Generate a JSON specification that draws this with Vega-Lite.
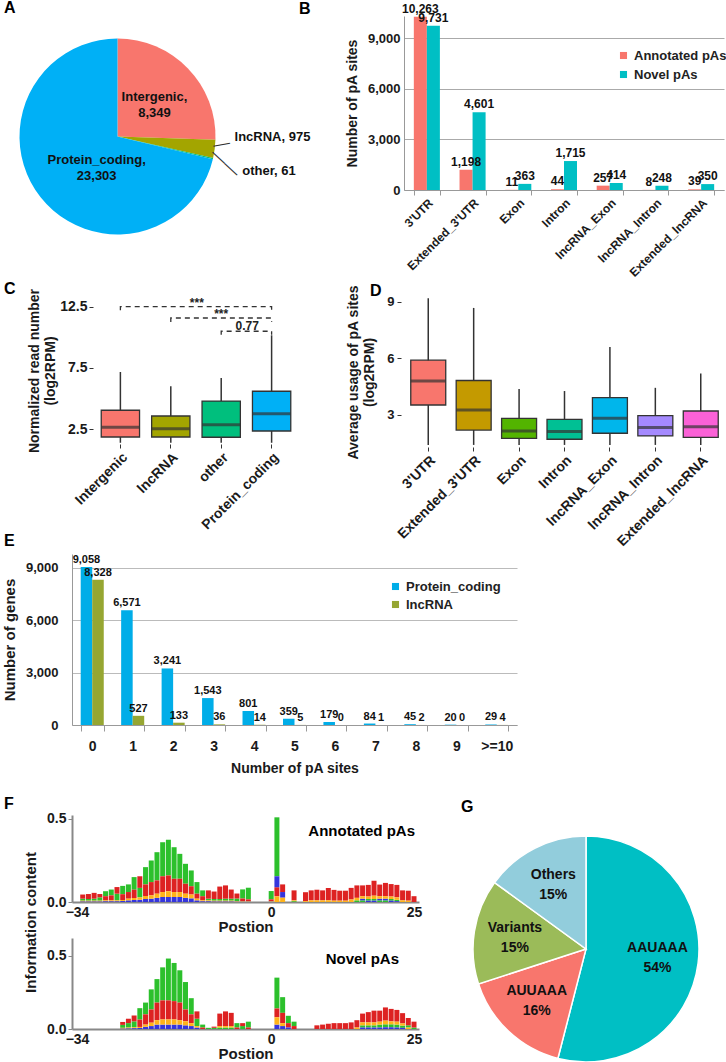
{
"$schema": "https://vega.github.io/schema/vega-lite/v6.json",
"background": "white",
"padding": {"left": 2, "top": 0, "right": 0, "bottom": 0},
"config": {
  "font": "Liberation Sans",
  "view": {"stroke": null},
  "axis": {"labelFont": "Liberation Sans", "titleFont": "Liberation Sans", "labelFontWeight": "bold", "titleFontWeight": "bold", "labelColor": "#1a1a1a", "titleColor": "#1a1a1a", "grid": false, "labelOverlap": false},
  "title": {"font": "Liberation Sans", "fontSize": 16, "fontWeight": "bold", "anchor": "start", "frame": "group", "baseline": "top", "color": "#000"},
  "legend": {"labelFont": "Liberation Sans"},
  "text": {"font": "Liberation Sans"}
},
"resolve": {"scale": {"color": "independent", "theta": "independent", "xOffset": "independent", "x": "independent", "y": "independent"}},
"columns": 1, "align": "none", "spacing": 20,
"concat": [
 {"columns": 1, "align": "none", "spacing": -17,
  "resolve": {"scale": {"color": "independent", "theta": "independent", "xOffset": "independent", "x": "independent", "y": "independent"}},
  "concat": [
   {"columns": 1, "align": "none", "spacing": 2,
    "resolve": {"scale": {"color": "independent", "theta": "independent", "xOffset": "independent", "x": "independent", "y": "independent"}},
    "concat": [
     {"columns": 2, "align": "none", "spacing": -12,
      "resolve": {"scale": {"color": "independent", "theta": "independent", "xOffset": "independent", "x": "independent", "y": "independent"}},
      "concat": [
       {"width": 91, "height": 241,
        "title": {"text": "A", "dx": -68, "offset": 0},
        "data": {"values": [
          {"t": "Intergenic", "n": 8349, "i": 1, "l": "Intergenic,\n8,349"},
          {"t": "lncRNA", "n": 975, "i": 2, "l": "lncRNA, 975"},
          {"t": "other", "n": 61, "i": 3, "l": "other, 61"},
          {"t": "Protein_coding", "n": 23303, "i": 4, "l": "Protein_coding,\n23,303"}
        ]},
        "encoding": {
          "theta": {"field": "n", "type": "quantitative", "stack": true},
          "order": {"field": "i", "type": "quantitative"},
          "detail": {"field": "t", "type": "nominal"}
        },
        "layer": [
          {"mark": {"type": "arc", "outerRadius": 98},
           "encoding": {"color": {"field": "t", "type": "nominal", "scale": {"domain": ["Intergenic", "lncRNA", "other", "Protein_coding"], "range": ["#F8766D", "#A3A500", "#00BF7D", "#00B0F6"]}, "legend": null}}},
          {"mark": {"type": "text", "radius": 50, "dx": 1, "dy": -5, "fontSize": 13, "fontWeight": "bold", "lineBreak": "\n", "lineHeight": 16, "color": "#111"},
           "encoding": {"text": {"condition": {"test": "datum.t === 'Intergenic'", "field": "l"}, "value": ""}}},
          {"mark": {"type": "text", "radius": 38, "dx": 9, "dy": 0, "fontSize": 13, "fontWeight": "bold", "lineBreak": "\n", "lineHeight": 16, "color": "#111"},
           "encoding": {"text": {"condition": {"test": "datum.t === 'Protein_coding'", "field": "l"}, "value": ""}}},
          {"mark": {"type": "text", "radius": 118, "dy": -15, "align": "left", "fontSize": 13, "fontWeight": "bold", "color": "#111"},
           "encoding": {"text": {"condition": {"test": "datum.t === 'lncRNA'", "field": "l"}, "value": ""}}},
          {"mark": {"type": "text", "radius": 128, "dy": 6, "align": "left", "fontSize": 13, "fontWeight": "bold", "color": "#111"},
           "encoding": {"text": {"condition": {"test": "datum.t === 'other'", "field": "l"}, "value": ""}}},
          {"mark": {"type": "text", "radius": 106, "dy": -6, "angle": 350, "fontSize": 17, "fontWeight": "normal", "color": "#333"},
           "encoding": {"text": {"condition": {"test": "datum.t === 'lncRNA'", "value": "\u2014"}, "value": ""}}},
          {"mark": {"type": "text", "radius": 112, "dy": 2, "angle": 43, "fontSize": 17, "fontWeight": "normal", "color": "#333"},
           "encoding": {"text": {"condition": {"test": "datum.t === 'other'", "value": "\u2014\u2014"}, "value": ""}}}
        ]
       },
       {"width": 320, "height": 174,
        "title": {"text": "B", "dx": -105, "offset": -14},
        "data": {"values": [
          {"c": "3'UTR", "s": "Annotated pAs", "n": 10263}, {"c": "3'UTR", "s": "Novel pAs", "n": 9731},
          {"c": "Extended_3'UTR", "s": "Annotated pAs", "n": 1198}, {"c": "Extended_3'UTR", "s": "Novel pAs", "n": 4601},
          {"c": "Exon", "s": "Annotated pAs", "n": 11}, {"c": "Exon", "s": "Novel pAs", "n": 363},
          {"c": "Intron", "s": "Annotated pAs", "n": 44}, {"c": "Intron", "s": "Novel pAs", "n": 1715},
          {"c": "lncRNA_Exon", "s": "Annotated pAs", "n": 257}, {"c": "lncRNA_Exon", "s": "Novel pAs", "n": 414},
          {"c": "lncRNA_Intron", "s": "Annotated pAs", "n": 8}, {"c": "lncRNA_Intron", "s": "Novel pAs", "n": 248},
          {"c": "Extended_lncRNA", "s": "Annotated pAs", "n": 39}, {"c": "Extended_lncRNA", "s": "Novel pAs", "n": 350}
        ]},
        "encoding": {
          "x": {"field": "c", "type": "nominal", "sort": ["3'UTR", "Extended_3'UTR", "Exon", "Intron", "lncRNA_Exon", "lncRNA_Intron", "Extended_lncRNA"],
                "scale": {"paddingInner": 0.43, "paddingOuter": 0.215},
                "axis": {"title": null, "labelAngle": -45, "labelFontSize": 12, "tickBand": "extent", "domainColor": "#999", "tickColor": "#999", "tickSize": 5, "labelPadding": 2}},
          "xOffset": {"field": "s", "type": "nominal", "sort": ["Annotated pAs", "Novel pAs"]},
          "y": {"field": "n", "type": "quantitative", "scale": {"domain": [0, 10303], "nice": false},
                "axis": {"values": [0, 3000, 6000, 9000], "format": ",d", "grid": true, "gridColor": "#aaa", "domainColor": "#999", "ticks": false, "labelFontSize": 13, "labelPadding": 4, "title": "Number of pA sites", "titleFontSize": 14, "titlePadding": 8}}
        },
        "layer": [
          {"mark": {"type": "bar"},
           "encoding": {"color": {"field": "s", "type": "nominal", "scale": {"domain": ["Annotated pAs", "Novel pAs"], "range": ["#F8766D", "#00BFC4"]},
             "legend": {"title": null, "orient": "none", "legendX": 213, "legendY": 33, "symbolType": "square", "symbolSize": 50, "symbolStrokeWidth": 0, "labelFontSize": 13, "labelFontWeight": "bold", "labelColor": "#222", "rowPadding": 5}}}},
          {"mark": {"type": "text", "baseline": "bottom", "dy": -1, "fontSize": 12, "fontWeight": "bold", "color": "#111"},
           "encoding": {"text": {"field": "n", "type": "quantitative", "format": ","}}}
        ]
       }
      ]
     },
     {"columns": 2, "align": "none", "spacing": 26,
      "resolve": {"scale": {"color": "independent", "theta": "independent", "xOffset": "independent", "x": "independent", "y": "independent"}},
      "concat": [
       {"width": 248, "height": 147,
        "title": {"text": "C", "dx": -68, "offset": -9},
        "data": {"values": [
          {"g": "Intergenic", "lo": 1.4, "q1": 1.87, "md": 2.66, "q3": 4.05, "hi": 7.17},
          {"g": "lncRNA", "lo": 1.4, "q1": 1.87, "md": 2.55, "q3": 3.58, "hi": 6.0},
          {"g": "other", "lo": 1.4, "q1": 1.85, "md": 2.87, "q3": 4.8, "hi": 6.68},
          {"g": "Protein_coding", "lo": 1.4, "q1": 2.36, "md": 3.77, "q3": 5.6, "hi": 10.16}
        ]},
        "encoding": {
          "x": {"field": "g", "type": "nominal", "sort": ["Intergenic", "lncRNA", "other", "Protein_coding"],
                "scale": {"paddingInner": 0, "paddingOuter": 0.46},
                "axis": {"title": null, "labelAngle": -45, "labelFontSize": 14, "domain": false, "tickSize": 4, "tickColor": "#333", "labelPadding": 2}}
        },
        "layer": [
          {"mark": {"type": "rule", "color": "#333", "strokeWidth": 1.5},
           "encoding": {
             "y": {"field": "lo", "type": "quantitative", "scale": {"domain": [1.3, 13.28], "nice": false, "zero": false},
                   "axis": {"values": [2.5, 5, 7.5, 10, 12.5], "format": ".1f", "offset": -21, "domain": false, "tickSize": 4, "tickColor": "#333", "labelFontSize": 14, "labelPadding": 2,
                            "title": ["Normalized read number", "(log2RPM)"], "titleFontSize": 14, "titleLineHeight": 16, "titlePadding": 2}},
             "y2": {"field": "hi"}}},
          {"mark": {"type": "bar", "width": {"band": 0.76}, "stroke": "#333", "strokeWidth": 1.3},
           "encoding": {
             "y": {"field": "q1", "type": "quantitative"}, "y2": {"field": "q3"},
             "color": {"field": "g", "type": "nominal", "scale": {"domain": ["Intergenic", "lncRNA", "other", "Protein_coding"], "range": ["#F8766D", "#A3A500", "#00BF7D", "#00B0F6"]}, "legend": null}}},
          {"mark": {"type": "tick", "thickness": 3, "size": 38, "color": "#333"},
           "encoding": {"y": {"field": "md", "type": "quantitative"}}},
          {"data": {"values": [
             {"b": 1, "o": 1, "g": "Intergenic", "y": 12.2}, {"b": 1, "o": 2, "g": "Intergenic", "y": 12.5}, {"b": 1, "o": 3, "g": "Protein_coding", "y": 12.5}, {"b": 1, "o": 4, "g": "Protein_coding", "y": 12.2},
             {"b": 2, "o": 1, "g": "lncRNA", "y": 11.25}, {"b": 2, "o": 2, "g": "lncRNA", "y": 11.57}, {"b": 2, "o": 3, "g": "Protein_coding", "y": 11.57}, {"b": 2, "o": 4, "g": "Protein_coding", "y": 11.25},
             {"b": 3, "o": 1, "g": "other", "y": 10.2}, {"b": 3, "o": 2, "g": "other", "y": 10.49}, {"b": 3, "o": 3, "g": "Protein_coding", "y": 10.49}, {"b": 3, "o": 4, "g": "Protein_coding", "y": 10.2}
           ]},
           "mark": {"type": "line", "strokeDash": [5, 4], "color": "#333", "strokeWidth": 1.3},
           "encoding": {"y": {"field": "y", "type": "quantitative"}, "detail": {"field": "b", "type": "nominal"}, "order": {"field": "o", "type": "quantitative"}}},
          {"data": {"values": [{"g": "lncRNA", "y": 12.78, "t": "***"}, {"g": "other", "y": 10.9, "t": "0.77"}]},
           "mark": {"type": "text", "dx": 26, "fontSize": 12, "fontWeight": "bold", "color": "#222"},
           "encoding": {"y": {"field": "y", "type": "quantitative"}, "text": {"field": "t"}}},
          {"data": {"values": [{"g": "other", "y": 11.92, "t": "***"}]},
           "mark": {"type": "text", "fontSize": 12, "fontWeight": "bold", "color": "#222"},
           "encoding": {"y": {"field": "y", "type": "quantitative"}, "text": {"field": "t"}}}
        ]
       },
       {"width": 327, "height": 150,
        "title": {"text": "D", "dx": -31, "offset": -14},
        "data": {"values": [
          {"g": "3'UTR", "lo": 1.41, "q1": 3.53, "md": 4.8, "q3": 5.91, "hi": 9.2},
          {"g": "Extended_3'UTR", "lo": 1.41, "q1": 2.2, "md": 3.26, "q3": 4.83, "hi": 8.68},
          {"g": "Exon", "lo": 1.41, "q1": 1.76, "md": 2.15, "q3": 2.82, "hi": 4.38},
          {"g": "Intron", "lo": 1.41, "q1": 1.71, "md": 2.12, "q3": 2.77, "hi": 4.27},
          {"g": "lncRNA_Exon", "lo": 1.41, "q1": 2.03, "md": 2.82, "q3": 3.92, "hi": 6.61},
          {"g": "lncRNA_Intron", "lo": 1.41, "q1": 1.89, "md": 2.33, "q3": 2.96, "hi": 4.44},
          {"g": "Extended_lncRNA", "lo": 1.41, "q1": 1.81, "md": 2.38, "q3": 3.21, "hi": 5.2}
        ]},
        "encoding": {
          "x": {"field": "g", "type": "nominal", "sort": ["3'UTR", "Extended_3'UTR", "Exon", "Intron", "lncRNA_Exon", "lncRNA_Intron", "Extended_lncRNA"],
                "scale": {"paddingInner": 0, "paddingOuter": 0.1},
                "axis": {"title": null, "labelAngle": -45, "labelFontSize": 14, "domain": false, "tickSize": 4, "tickColor": "#333", "labelPadding": 2}}
        },
        "layer": [
          {"mark": {"type": "rule", "color": "#333", "strokeWidth": 1.5},
           "encoding": {
             "y": {"field": "lo", "type": "quantitative", "scale": {"domain": [1.3, 9.26], "nice": false, "zero": false},
                   "axis": {"values": [3, 6, 9], "domain": false, "tickSize": 4, "tickColor": "#333", "labelFontSize": 13, "labelPadding": 3,
                            "title": ["Average usage of pA sites", "(log2RPM)"], "titleFontSize": 14, "titleLineHeight": 16, "titlePadding": 10}},
             "y2": {"field": "hi"}}},
          {"mark": {"type": "bar", "width": {"band": 0.77}, "stroke": "#333", "strokeWidth": 1.3},
           "encoding": {
             "y": {"field": "q1", "type": "quantitative"}, "y2": {"field": "q3"},
             "color": {"field": "g", "type": "nominal", "scale": {"domain": ["3'UTR", "Extended_3'UTR", "Exon", "Intron", "lncRNA_Exon", "lncRNA_Intron", "Extended_lncRNA"], "range": ["#F8766D", "#C49A00", "#53B400", "#00C094", "#00B6EB", "#A58AFF", "#FB61D7"]}, "legend": null}}},
          {"mark": {"type": "tick", "thickness": 3, "size": 35, "color": "#333"},
           "encoding": {"y": {"field": "md", "type": "quantitative"}}}
        ]
       }
      ]
     }
    ]
   },
   {"width": 445, "height": 171,
    "title": {"text": "E", "dx": -68, "offset": 5},
    "data": {"values": [
      {"k": "0", "s": "Protein_coding", "n": 9058}, {"k": "0", "s": "lncRNA", "n": 8328},
      {"k": "1", "s": "Protein_coding", "n": 6571}, {"k": "1", "s": "lncRNA", "n": 527},
      {"k": "2", "s": "Protein_coding", "n": 3241}, {"k": "2", "s": "lncRNA", "n": 133},
      {"k": "3", "s": "Protein_coding", "n": 1543}, {"k": "3", "s": "lncRNA", "n": 36},
      {"k": "4", "s": "Protein_coding", "n": 801}, {"k": "4", "s": "lncRNA", "n": 14},
      {"k": "5", "s": "Protein_coding", "n": 359}, {"k": "5", "s": "lncRNA", "n": 5},
      {"k": "6", "s": "Protein_coding", "n": 179}, {"k": "6", "s": "lncRNA", "n": 0},
      {"k": "7", "s": "Protein_coding", "n": 84}, {"k": "7", "s": "lncRNA", "n": 1},
      {"k": "8", "s": "Protein_coding", "n": 45}, {"k": "8", "s": "lncRNA", "n": 2},
      {"k": "9", "s": "Protein_coding", "n": 20}, {"k": "9", "s": "lncRNA", "n": 0},
      {"k": ">=10", "s": "Protein_coding", "n": 29}, {"k": ">=10", "s": "lncRNA", "n": 4}
    ]},
    "encoding": {
      "x": {"field": "k", "type": "nominal", "sort": ["0", "1", "2", "3", "4", "5", "6", "7", "8", "9", ">=10"],
            "scale": {"paddingInner": 0.43, "paddingOuter": 0.215},
            "axis": {"title": "Number of pA sites", "labelAngle": 0, "labelFontSize": 14, "titleFontSize": 14, "tickBand": "extent", "domainColor": "#999", "tickColor": "#999", "tickSize": 6, "labelPadding": 8, "titlePadding": 8}},
      "xOffset": {"field": "s", "type": "nominal", "sort": ["Protein_coding", "lncRNA"]},
      "y": {"field": "n", "type": "quantitative", "scale": {"domain": [0, 9800], "nice": false},
            "axis": {"values": [0, 3000, 6000, 9000], "format": ",d", "grid": true, "gridColor": "#bbb", "domainColor": "#999", "ticks": false, "labelFontSize": 13, "labelPadding": 14, "title": "Number of genes", "titleFontSize": 15, "titlePadding": 8}}
    },
    "layer": [
      {"mark": {"type": "bar"},
       "encoding": {"color": {"field": "s", "type": "nominal", "scale": {"domain": ["Protein_coding", "lncRNA"], "range": ["#00ADE8", "#96A632"]},
         "legend": {"title": null, "orient": "none", "legendX": 317, "legendY": 26, "symbolType": "square", "symbolSize": 50, "symbolStrokeWidth": 0, "labelFontSize": 13, "labelFontWeight": "bold", "labelColor": "#222", "rowPadding": 4}}}},
      {"mark": {"type": "text", "baseline": "bottom", "dy": -2, "fontSize": 11, "fontWeight": "bold", "color": "#111"},
       "encoding": {"text": {"field": "n", "type": "quantitative", "format": ","}}}
    ]
   }
  ]
 },
 {"columns": 2, "align": "none", "spacing": 39,
  "resolve": {"scale": {"color": "independent", "theta": "independent", "xOffset": "independent", "x": "independent", "y": "independent"}},
  "concat": [
   {"title": {"text": "F", "frame": "group", "dx": -68, "offset": 0},
    "bounds": "flush", "spacing": 36,
    "resolve": {"scale": {"x": "independent", "y": "independent"}},
    "vconcat": [
     {"width": 347, "height": 87,
      "title": {"text": "Annotated pAs", "anchor": "end", "dx": -4, "offset": -27, "fontSize": 15},
      "data": {"values": [
        {"p": -33, "A": 0.012, "T": 0.025, "C": 0.004, "G": 0.004},
        {"p": -32, "A": 0.01, "T": 0.03, "C": 0.004, "G": 0.004},
        {"p": -31, "A": 0.012, "T": 0.035, "C": 0.004, "G": 0.004},
        {"p": -30, "A": 0.02, "T": 0.02, "C": 0.004, "G": 0.004},
        {"p": -29, "A": 0.03, "T": 0.025, "C": 0.005, "G": 0.005},
        {"p": -28, "A": 0.035, "T": 0.03, "C": 0.005, "G": 0.005},
        {"p": -27, "A": 0.04, "T": 0.04, "C": 0.005, "G": 0.005},
        {"p": -26, "A": 0.05, "T": 0.035, "C": 0.006, "G": 0.006},
        {"p": -25, "A": 0.046, "T": 0.04, "C": 0.01, "G": 0.01},
        {"p": -24, "A": 0.076, "T": 0.05, "C": 0.012, "G": 0.012},
        {"p": -23, "A": 0.057, "T": 0.07, "C": 0.014, "G": 0.014},
        {"p": -22, "A": 0.104, "T": 0.07, "C": 0.018, "G": 0.018},
        {"p": -21, "A": 0.13, "T": 0.08, "C": 0.02, "G": 0.02},
        {"p": -20, "A": 0.17, "T": 0.08, "C": 0.025, "G": 0.025},
        {"p": -19, "A": 0.205, "T": 0.095, "C": 0.03, "G": 0.03},
        {"p": -18, "A": 0.215, "T": 0.095, "C": 0.03, "G": 0.035},
        {"p": -17, "A": 0.19, "T": 0.08, "C": 0.03, "G": 0.03},
        {"p": -16, "A": 0.15, "T": 0.08, "C": 0.03, "G": 0.03},
        {"p": -15, "A": 0.12, "T": 0.06, "C": 0.025, "G": 0.025},
        {"p": -14, "A": 0.095, "T": 0.05, "C": 0.022, "G": 0.023},
        {"p": -13, "A": 0.07, "T": 0.03, "C": 0.01, "G": 0.01},
        {"p": -12, "A": 0.035, "T": 0.025, "C": 0.005, "G": 0.005},
        {"p": -11, "A": 0.01, "T": 0.05, "C": 0.005, "G": 0.005},
        {"p": -10, "A": 0.01, "T": 0.045, "C": 0.004, "G": 0.004},
        {"p": -9, "A": 0.01, "T": 0.075, "C": 0.004, "G": 0.004},
        {"p": -8, "A": 0.012, "T": 0.08, "C": 0.004, "G": 0.004},
        {"p": -7, "A": 0.012, "T": 0.055, "C": 0.004, "G": 0.004},
        {"p": -6, "A": 0.015, "T": 0.03, "C": 0.003, "G": 0.003},
        {"p": -5, "A": 0.055, "T": 0.015, "C": 0.003, "G": 0.003},
        {"p": -4, "A": 0.07, "T": 0.01, "C": 0.003, "G": 0.003},
        {"p": 0, "A": 0.05, "T": 0.01, "C": 0.003, "G": 0.003},
        {"p": 1, "A": 0.355, "T": 0.055, "C": 0.066, "G": 0.034},
        {"p": 2, "T": 0.046, "C": 0.034, "G": 0.026},
        {"p": 4, "A": 0.005, "T": 0.06, "G": 0.005},
        {"p": 6, "T": 0.054, "G": 0.005},
        {"p": 7, "T": 0.06, "G": 0.01},
        {"p": 8, "T": 0.064, "G": 0.01},
        {"p": 9, "T": 0.06, "G": 0.01},
        {"p": 10, "T": 0.074, "G": 0.01},
        {"p": 11, "T": 0.065, "G": 0.008},
        {"p": 12, "T": 0.06, "G": 0.008},
        {"p": 13, "T": 0.06, "G": 0.008},
        {"p": 14, "T": 0.07, "G": 0.015},
        {"p": 15, "A": 0.01, "T": 0.075, "G": 0.015},
        {"p": 16, "A": 0.01, "T": 0.065, "C": 0.01, "G": 0.015},
        {"p": 17, "A": 0.01, "T": 0.07, "C": 0.008, "G": 0.015},
        {"p": 18, "A": 0.01, "T": 0.09, "C": 0.008, "G": 0.02},
        {"p": 19, "A": 0.01, "T": 0.07, "C": 0.01, "G": 0.015},
        {"p": 20, "A": 0.01, "T": 0.08, "C": 0.01, "G": 0.015},
        {"p": 21, "A": 0.01, "T": 0.075, "C": 0.008, "G": 0.015},
        {"p": 22, "A": 0.008, "T": 0.075, "C": 0.005, "G": 0.015},
        {"p": 23, "T": 0.06, "G": 0.01},
        {"p": 24, "T": 0.06, "G": 0.008},
        {"p": 25, "T": 0.035}
      ]},
      "transform": [{"fold": ["A", "T", "C", "G"], "as": ["nt", "h"]}, {"filter": "datum.h > 0"}],
      "mark": {"type": "bar", "width": 5},
      "encoding": {
        "x": {"field": "p", "type": "quantitative", "scale": {"domain": [-34, 25], "nice": false, "zero": false},
              "axis": {"values": [-34, 0, 25], "labelFlush": false, "title": "Postion", "labelFontSize": 14, "titleFontSize": 15, "domainColor": "#888", "domainWidth": 2, "ticks": false, "labelPadding": 3, "titlePadding": 0}},
        "y": {"field": "h", "type": "quantitative", "stack": "zero", "scale": {"domain": [0, 0.524], "nice": false},
              "axis": {"values": [0, 0.5], "format": ".1f", "labelFontSize": 14, "domainColor": "#888", "domainWidth": 2, "tickSize": 4, "tickColor": "#888",
                       "title": "Information content", "titleFontSize": 15, "titleX": -42, "titleY": 107, "titleAlign": "center", "titleBaseline": "middle"}},
        "color": {"field": "nt", "type": "nominal", "scale": {"domain": ["A", "T", "C", "G"], "range": ["#2CC02C", "#DD2222", "#3535DD", "#FFB31A"]}, "legend": null},
        "order": {"field": "h", "type": "quantitative", "sort": "ascending"}
      }
     },
     {"width": 347, "height": 91,
      "title": {"text": "Novel pAs", "anchor": "end", "dx": -20, "offset": -29, "fontSize": 15},
      "data": {"values": [
        {"p": -26, "A": 0.02, "T": 0.02, "C": 0.004, "G": 0.004},
        {"p": -25, "A": 0.03, "T": 0.03, "C": 0.005, "G": 0.005},
        {"p": -24, "A": 0.04, "T": 0.04, "C": 0.006, "G": 0.006},
        {"p": -23, "A": 0.078, "T": 0.05, "C": 0.007, "G": 0.007},
        {"p": -22, "A": 0.08, "T": 0.07, "C": 0.015, "G": 0.015},
        {"p": -21, "A": 0.137, "T": 0.09, "C": 0.02, "G": 0.023},
        {"p": -20, "A": 0.16, "T": 0.12, "C": 0.03, "G": 0.03},
        {"p": -19, "A": 0.225, "T": 0.13, "C": 0.03, "G": 0.035},
        {"p": -18, "A": 0.285, "T": 0.13, "C": 0.03, "G": 0.035},
        {"p": -17, "A": 0.26, "T": 0.125, "C": 0.03, "G": 0.035},
        {"p": -16, "A": 0.22, "T": 0.12, "C": 0.03, "G": 0.03},
        {"p": -15, "A": 0.187, "T": 0.08, "C": 0.025, "G": 0.028},
        {"p": -14, "A": 0.11, "T": 0.06, "C": 0.02, "G": 0.02},
        {"p": -13, "A": 0.05, "T": 0.05, "C": 0.01, "G": 0.01},
        {"p": -12, "A": 0.02, "T": 0.01},
        {"p": -11, "A": 0.008},
        {"p": -10, "A": 0.008, "T": 0.008},
        {"p": -9, "A": 0.01, "T": 0.085, "G": 0.01},
        {"p": -8, "A": 0.01, "T": 0.1, "G": 0.01},
        {"p": -7, "A": 0.01, "T": 0.09, "G": 0.01},
        {"p": -6, "A": 0.03, "T": 0.01},
        {"p": -5, "A": 0.02, "T": 0.02},
        {"p": -4, "A": 0.04, "T": 0.01},
        {"p": 1, "A": 0.21, "T": 0.06, "C": 0.03, "G": 0.05},
        {"p": 2, "A": 0.107, "T": 0.07, "C": 0.02, "G": 0.02},
        {"p": 3, "A": 0.05, "T": 0.03, "C": 0.01},
        {"p": 4, "A": 0.03, "T": 0.02},
        {"p": 8, "T": 0.025},
        {"p": 9, "T": 0.03},
        {"p": 10, "T": 0.035},
        {"p": 11, "T": 0.04},
        {"p": 12, "T": 0.04},
        {"p": 13, "T": 0.04},
        {"p": 14, "T": 0.045},
        {"p": 15, "T": 0.05, "G": 0.01},
        {"p": 16, "A": 0.015, "T": 0.06, "C": 0.01, "G": 0.02},
        {"p": 17, "A": 0.015, "T": 0.07, "C": 0.01, "G": 0.02},
        {"p": 18, "A": 0.015, "T": 0.08, "C": 0.01, "G": 0.02},
        {"p": 19, "A": 0.02, "T": 0.075, "C": 0.01, "G": 0.02},
        {"p": 20, "A": 0.02, "T": 0.09, "C": 0.012, "G": 0.025},
        {"p": 21, "A": 0.02, "T": 0.085, "C": 0.012, "G": 0.02},
        {"p": 22, "A": 0.02, "T": 0.08, "C": 0.01, "G": 0.02},
        {"p": 23, "A": 0.015, "T": 0.07, "C": 0.008, "G": 0.015},
        {"p": 24, "A": 0.015, "T": 0.05, "G": 0.01},
        {"p": 25, "A": 0.01, "T": 0.04}
      ]},
      "transform": [{"fold": ["A", "T", "C", "G"], "as": ["nt", "h"]}, {"filter": "datum.h > 0"}],
      "mark": {"type": "bar", "width": 5},
      "encoding": {
        "x": {"field": "p", "type": "quantitative", "scale": {"domain": [-34, 25], "nice": false, "zero": false},
              "axis": {"values": [-34, 0, 25], "labelFlush": false, "title": "Postion", "labelFontSize": 14, "titleFontSize": 15, "domainColor": "#888", "domainWidth": 2, "ticks": false, "labelPadding": 3, "titlePadding": 0}},
        "y": {"field": "h", "type": "quantitative", "stack": "zero", "scale": {"domain": [0, 0.62], "nice": false},
              "axis": {"values": [0, 0.5], "format": ".1f", "labelFontSize": 14, "domainColor": "#888", "domainWidth": 2, "tickSize": 4, "tickColor": "#888", "title": null}},
        "color": {"field": "nt", "type": "nominal", "scale": {"domain": ["A", "T", "C", "G"], "range": ["#2CC02C", "#DD2222", "#3535DD", "#FFB31A"]}, "legend": null},
        "order": {"field": "h", "type": "quantitative", "sort": "ascending"}
      }
     }
    ]
   },
   {"width": 250, "height": 228,
    "title": {"text": "G", "offset": 0},
    "data": {"values": [
      {"m": "AAUAAA", "v": 54, "i": 1, "l": "AAUAAA\n54%"},
      {"m": "AUUAAA", "v": 16, "i": 2, "l": "AUUAAA\n16%"},
      {"m": "Variants", "v": 15, "i": 3, "l": "Variants\n15%"},
      {"m": "Others", "v": 15, "i": 4, "l": "Others\n15%"}
    ]},
    "encoding": {
      "theta": {"field": "v", "type": "quantitative", "stack": true},
      "order": {"field": "i", "type": "quantitative"},
      "detail": {"field": "m", "type": "nominal"}
    },
    "layer": [
      {"mark": {"type": "arc", "outerRadius": 113, "yOffset": 20, "stroke": "white", "strokeWidth": 1.5},
       "encoding": {"color": {"field": "m", "type": "nominal", "scale": {"domain": ["AAUAAA", "AUUAAA", "Variants", "Others"], "range": ["#00BFC4", "#F8766D", "#9BBB59", "#92CDDC"]}, "legend": null}}},
      {"mark": {"type": "text", "radius": 72, "yOffset": 10, "fontSize": 14, "fontWeight": "bold", "lineBreak": "\n", "lineHeight": 20, "color": "#111"},
       "encoding": {"text": {"field": "l"}}}
    ]
   }
  ]
 }
]
}
